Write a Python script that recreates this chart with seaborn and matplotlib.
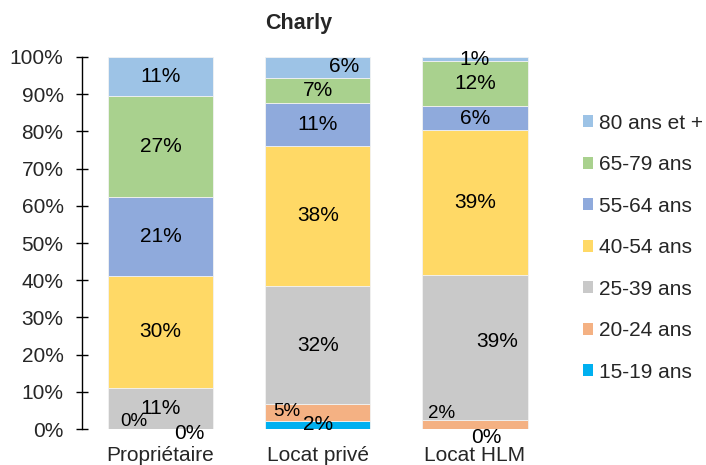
import pandas as pd
import matplotlib
matplotlib.use('Agg')
import matplotlib.pyplot as plt
from matplotlib.patches import Patch
from matplotlib.ticker import PercentFormatter
import seaborn as sns

# data (share of households, %)
categories = ['Propriétaire', 'Locat privé', 'Locat HLM']
age_groups = ['80 ans et +', '65-79 ans', '55-64 ans', '40-54 ans',
              '25-39 ans', '20-24 ans', '15-19 ans']
age_colors = ['#9DC3E6', '#A9D18E', '#8FAADC', '#FFD966',
              '#C9C9C9', '#F4B183', '#00B0F0']

v_80plus = [10.6, 5.7, 1.1]
v_65_79 = [27.1, 6.7, 12.2]
v_55_64 = [21.2, 11.4, 6.3]
v_40_54 = [30.0, 37.8, 38.9]
v_25_39 = [11.0, 31.8, 39.1]
v_20_24 = [0.1, 4.4, 2.4]
v_15_19 = [0.0, 2.2, 0.0]
labels_80plus = ['11%', '6%', '1%']
labels_65_79 = ['27%', '7%', '12%']
labels_55_64 = ['21%', '11%', '6%']
labels_40_54 = ['30%', '38%', '39%']
labels_25_39 = ['11%', '32%', '39%']
labels_20_24 = ['0%', '5%', '2%']
labels_15_19 = ['0%', '2%', '0%']

series = [v_80plus, v_65_79, v_55_64, v_40_54, v_25_39, v_20_24, v_15_19]
series_labels = [labels_80plus, labels_65_79, labels_55_64, labels_40_54,
                 labels_25_39, labels_20_24, labels_15_19]

rows = []
for age, vals in zip(age_groups, series):
    for cat, v in zip(categories, vals):
        rows.append({'cat': cat, 'age': age, 'val': v / 100})
df = pd.DataFrame(rows)

sns.set_style('white')
plt.rcParams['font.family'] = ['Liberation Sans', 'DejaVu Sans']

fig = plt.figure(figsize=(7.06, 4.65), dpi=100)
ax = fig.add_axes([82 / 706, 1 - 429 / 465, (553.5 - 82) / 706, (429 - 57) / 465])

sns.histplot(data=df, x='cat', weights='val', hue='age', hue_order=age_groups,
             multiple='stack', discrete=True, shrink=0.67,
             palette=dict(zip(age_groups, age_colors)), alpha=1,
             edgecolor='#F2F2F2', linewidth=0.6, legend=False, ax=ax)

# data labels, centred in each segment (a few nudged like the original)
nudges = {
    (5, 0): (-19, 5, 13.5), (6, 0): (21, -3, 15),
    (5, 1): (-22, 1, 13.5), (0, 1): (19, 1, 15),
    (5, 2): (-24, 8, 13.5), (6, 2): (8, -6, 15),
    (4, 2): (16, 4, 15),
}
for j in range(len(categories)):
    bottom = 0
    for i in range(len(age_groups) - 1, -1, -1):
        v = series[i][j] / 100
        dx, dy, fs = nudges.get((i, j), (0, 0, 15))
        ax.annotate(series_labels[i][j], xy=(j, bottom + v / 2),
                    xytext=(dx, dy), textcoords='offset points',
                    ha='center', va='center', fontsize=fs, color='black')
        bottom += v

ax.set_xlim(-0.5, 2.5)
ax.set_ylim(0, 1)
ax.set_yticks([i / 10 for i in range(11)])
ax.yaxis.set_major_formatter(PercentFormatter(1.0, decimals=0))
ax.set_xticks(range(len(categories)))
ax.set_xticklabels(categories)
ax.set_xlabel('')
ax.set_ylabel('')
ax.tick_params(axis='y', direction='inout', length=8.5, width=1,
               labelsize=15, pad=9, left=True, color='black')
ax.tick_params(axis='x', length=0, labelsize=15, pad=12)
for side in ['top', 'right', 'bottom']:
    ax.spines[side].set_visible(False)
ax.spines['left'].set_color('black')
ax.spines['left'].set_linewidth(1)

fig.text(298.5 / 706, 1 - 24 / 465, 'Charly', ha='center', va='center',
         fontsize=15.5, fontweight='bold')

handles = [Patch(facecolor=c, edgecolor='none') for c in age_colors]
fig.legend(handles, age_groups, loc='center left',
           bbox_to_anchor=(583 / 706, 1 - 247.5 / 465), frameon=False,
           fontsize=15, handlelength=0.5, handleheight=0.5,
           handletextpad=0.25, labelspacing=1.08, borderpad=0,
           borderaxespad=0)

fig.savefig('out.png', dpi=100)
